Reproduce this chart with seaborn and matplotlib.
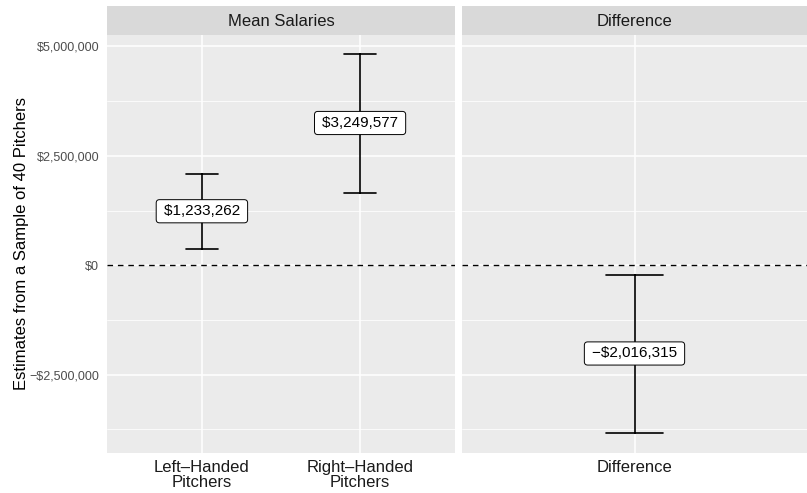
import matplotlib
matplotlib.use("Agg")
import matplotlib.pyplot as plt
import seaborn as sns
import pandas as pd

# Interval estimates (dollars)
groups = ["Left–Handed\nPitchers", "Right–Handed\nPitchers"]
group_est = [1233262, 3249577]
group_lower = [360000, 1660000]
group_upper = [2090000, 4830000]

diff_name = ["Difference"]
diff_est = [-2016315]
diff_lower = [-3830000]
diff_upper = [-220000]

panel_titles = ["Mean Salaries", "Difference"]
y_ticks = [-2500000, 0, 2500000, 5000000]
y_minor = [-3750000, -1250000, 1250000, 3750000]
y_limits = (-4290000, 5260000)

sns.set_theme(style="darkgrid")
plt.rcParams["font.family"] = ["Liberation Sans", "DejaVu Sans"]

W, H, DPI = 807, 493, 100
fig = plt.figure(figsize=(W / DPI, H / DPI), dpi=DPI)


def fmt_dollar(v):
    s = "${:,.0f}".format(abs(v))
    return ("\u2212" + s) if v < 0 else s


def long_frame(names, est, lo, hi):
    rows = []
    for n, e, l, h in zip(names, est, lo, hi):
        for v in (l, e, h):
            rows.append({"term": n, "value": v})
    return pd.DataFrame(rows)


def panel(rect, names, est, lo, hi, title, show_y):
    x0, y0, w, h = rect
    ax = fig.add_axes([x0 / W, 1 - (y0 + h) / H, w / W, h / H])
    df = long_frame(names, est, lo, hi)
    sns.pointplot(
        data=df, x="term", y="value", order=names, ax=ax,
        estimator="median", errorbar=lambda v: (v.min(), v.max()),
        capsize=0.2, linestyle="none", markersize=0, color="black",
        err_kws={"linewidth": 1.2},
    )
    n = len(names)
    ax.set_xlim(-0.6, n - 0.4)
    ax.set_ylim(*y_limits)
    ax.set_facecolor("#EBEBEB")
    ax.set_yticks(y_ticks)
    ax.set_yticks(y_minor, minor=True)
    ax.grid(which="major", color="white", linewidth=1.1)
    ax.grid(which="minor", axis="y", color="white", linewidth=0.55)
    ax.set_axisbelow(True)
    for s in ax.spines.values():
        s.set_visible(False)
    ax.axhline(0, color="black", linewidth=1.0, linestyle=(0, (4, 3.5)), zorder=1.5)
    for i, e in enumerate(est):
        ax.text(i, e, "\u2009" + fmt_dollar(e) + "\u2009", ha="center", va="center",
                fontsize=11, color="black", zorder=5,
                bbox=dict(boxstyle="round,pad=0.3,rounding_size=0.22",
                          facecolor="white", edgecolor="black", linewidth=0.7))
    ax.tick_params(axis="both", which="major", length=3.5, width=0.8,
                   color="#333333", labelsize=9, labelcolor="#4D4D4D", pad=2)
    ax.tick_params(axis="y", which="minor", length=0)
    ax.tick_params(axis="x", which="major", labelsize=12, pad=1.5)
    for lab in ax.get_xticklabels():
        lab.set_linespacing(1.0)
        lab.set_color("#1A1A1A")
    ax.set_xlabel("")
    if show_y:
        ax.set_yticklabels([fmt_dollar(v) for v in y_ticks])
        ax.set_ylabel("Estimates from a Sample of 40 Pitchers", fontsize=12,
                      color="black", labelpad=0)
    else:
        ax.set_yticklabels([])
        ax.tick_params(axis="y", length=0)
        ax.set_ylabel("")
    # facet strip
    sax = fig.add_axes([x0 / W, 1 - (y0) / H, w / W, 29 / H])
    sax.set_facecolor("#D9D9D9")
    sax.set_xticks([])
    sax.set_yticks([])
    for s in sax.spines.values():
        s.set_visible(False)
    sax.text(0.5, 0.47, title, ha="center", va="center", fontsize=12,
             color="#1A1A1A", transform=sax.transAxes)
    return ax


panel((107, 35, 348, 418), groups, group_est, group_lower, group_upper,
      panel_titles[0], True)
panel((462, 35, 345, 418), diff_name, diff_est, diff_lower, diff_upper,
      panel_titles[1], False)

fig.savefig("out.png", dpi=DPI)
